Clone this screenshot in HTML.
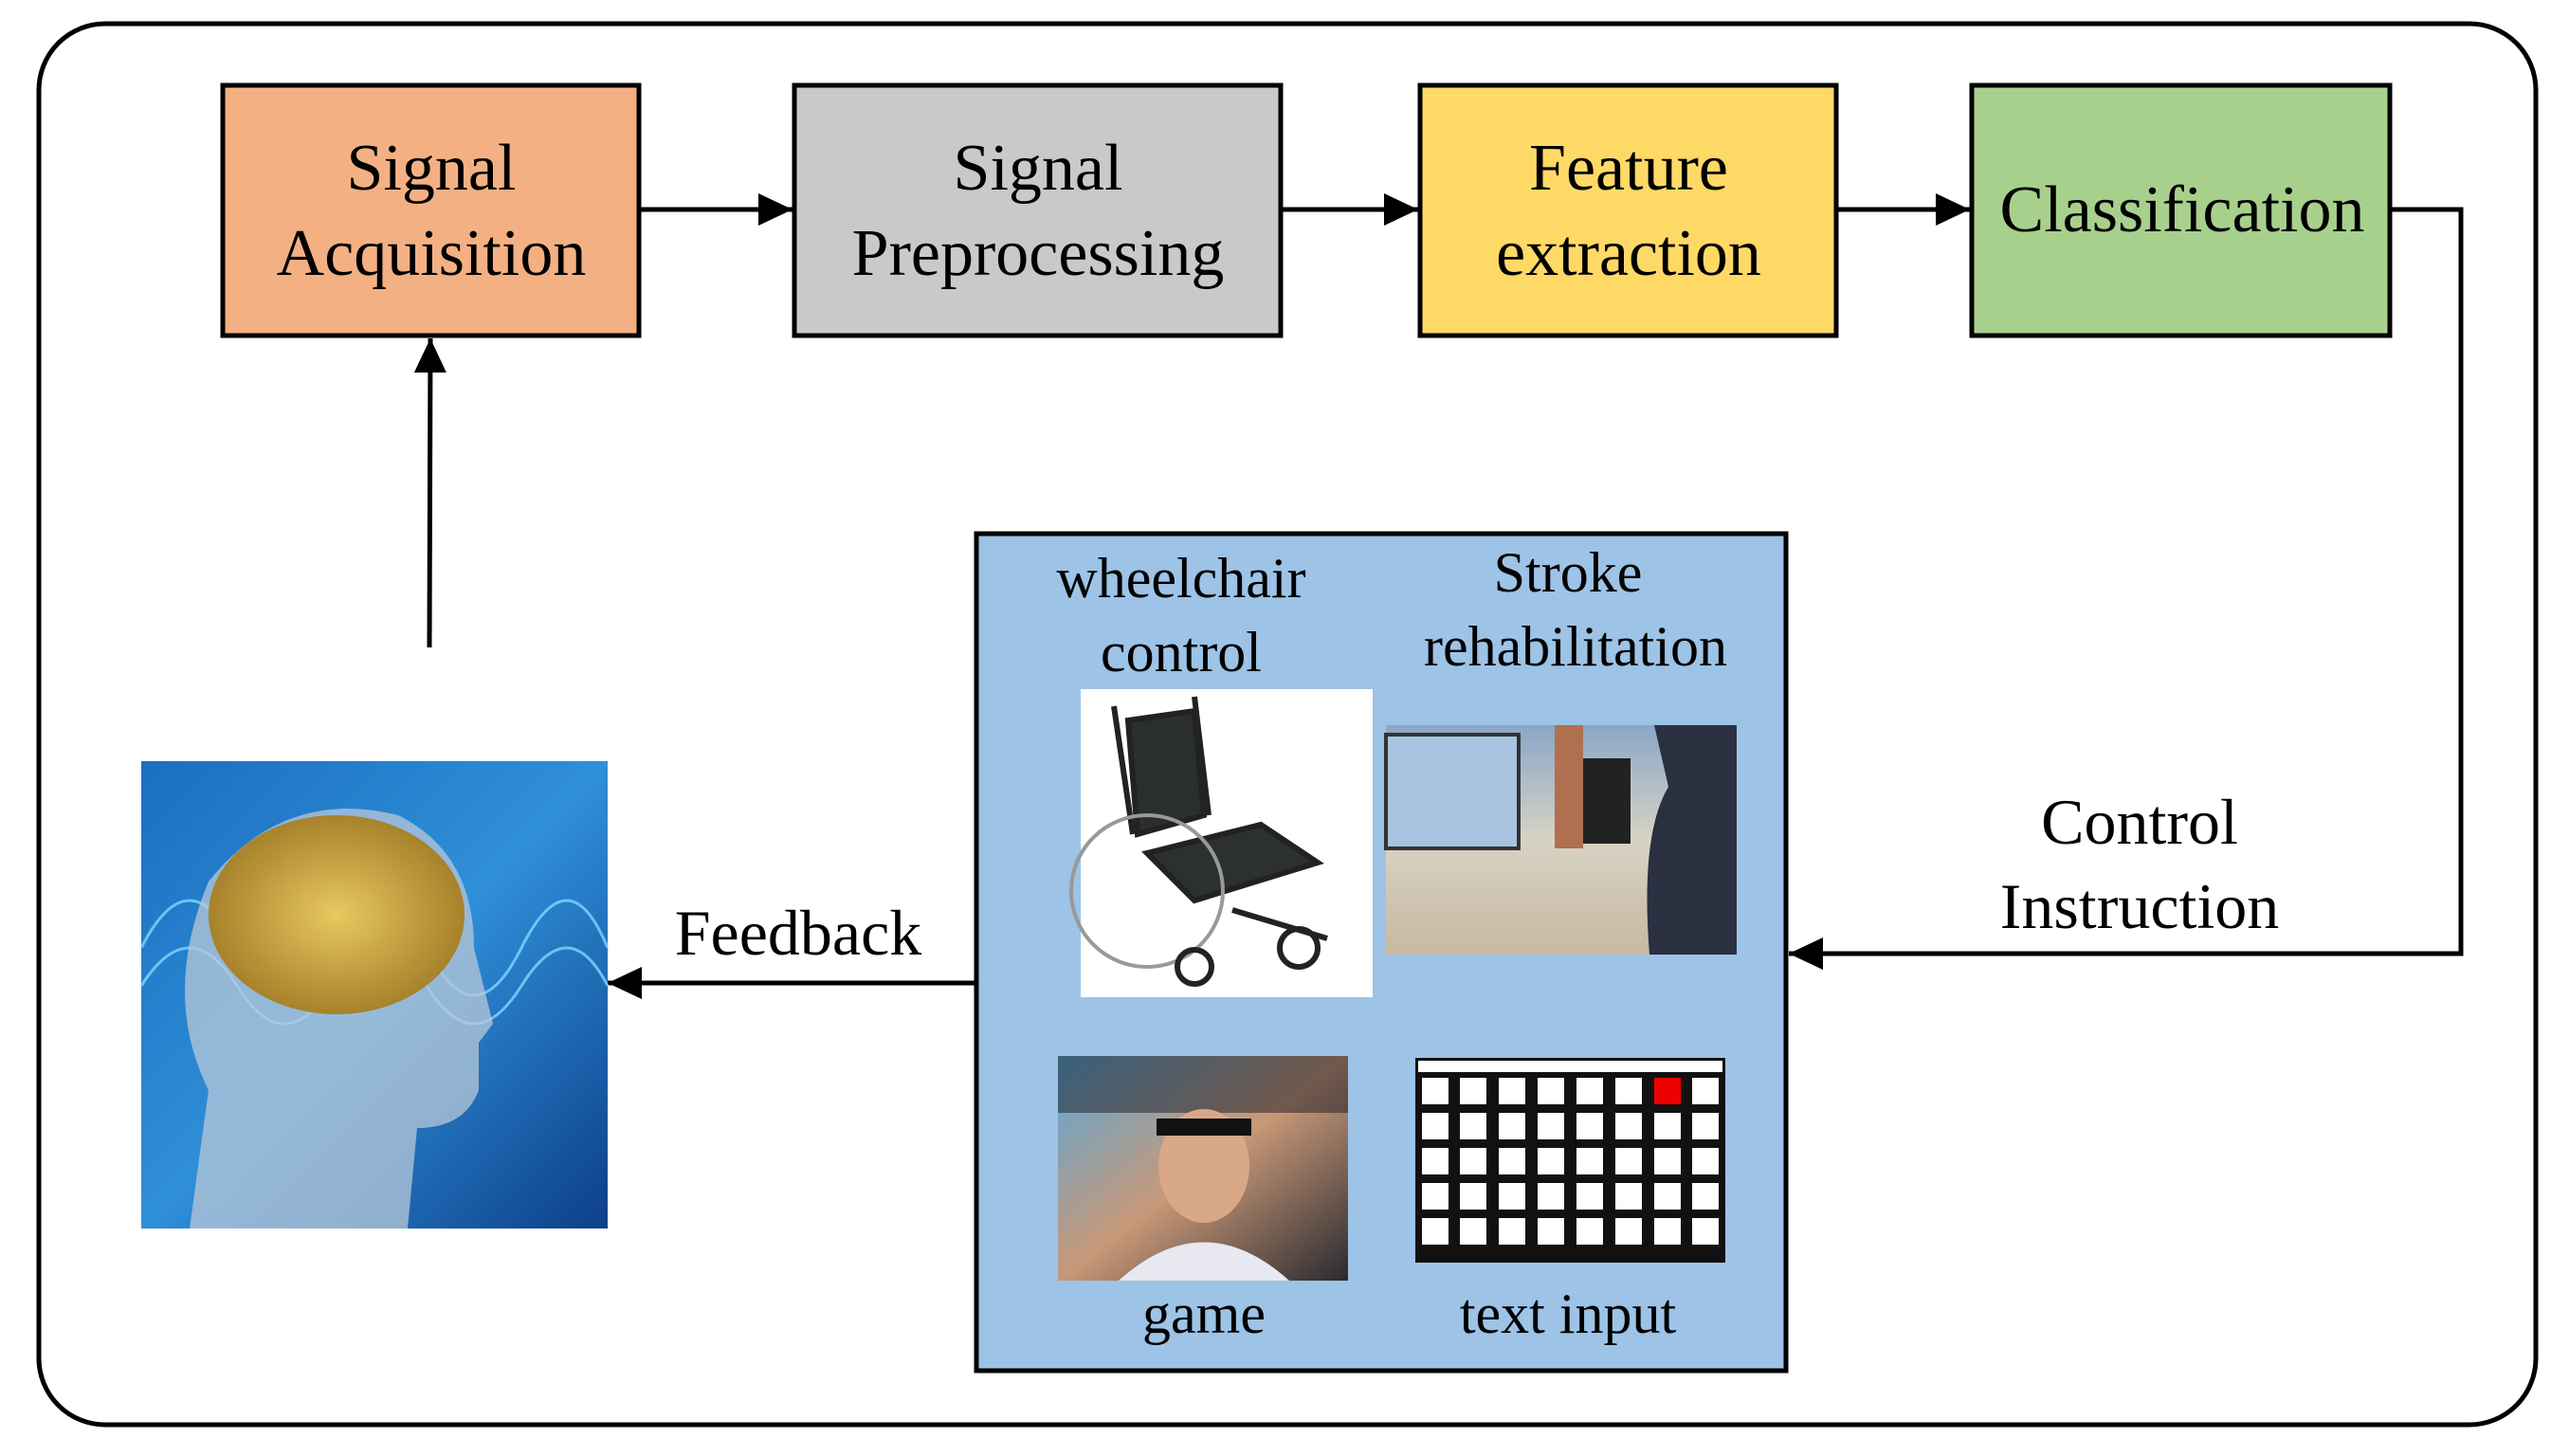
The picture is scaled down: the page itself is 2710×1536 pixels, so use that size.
<!DOCTYPE html>
<html><head><meta charset="utf-8"><style>
body{margin:0;background:#fff}
svg text{font-family:"Liberation Serif",serif;fill:#000}
</style></head><body>
<svg width="2710" height="1531" viewBox="0 0 2710 1531" xmlns="http://www.w3.org/2000/svg">
<defs>
<marker id="ah" markerWidth="36" markerHeight="34" refX="36" refY="17" orient="auto" markerUnits="userSpaceOnUse" viewBox="0 0 36 34"><path d="M0,0 L36,17 L0,34 z" fill="#000"/></marker>
<linearGradient id="bg" x1="0" y1="0" x2="1" y2="1"><stop offset="0" stop-color="#1a6fc0"/><stop offset="0.5" stop-color="#2f8fd8"/><stop offset="1" stop-color="#0d3f8a"/></linearGradient>
<radialGradient id="br" cx="0.5" cy="0.5" r="0.6"><stop offset="0" stop-color="#e8c860"/><stop offset="1" stop-color="#9a7420"/></radialGradient>
<linearGradient id="st" x1="0" y1="0" x2="0" y2="1"><stop offset="0" stop-color="#8aa6c8"/><stop offset="0.5" stop-color="#d8d2c4"/><stop offset="1" stop-color="#c8b8a0"/></linearGradient>
<linearGradient id="gm" x1="0" y1="0" x2="1" y2="1"><stop offset="0" stop-color="#5aa8d8"/><stop offset="0.5" stop-color="#c89878"/><stop offset="1" stop-color="#2a2a30"/></linearGradient>
</defs>
<rect x="41" y="25" width="2634" height="1478" rx="70" fill="none" stroke="#000" stroke-width="5"/>
<rect x="235" y="90" width="439" height="264" fill="#f3b183" stroke="#000" stroke-width="5"/>
<rect x="838" y="90" width="513" height="264" fill="#c9c9c9" stroke="#000" stroke-width="5"/>
<rect x="1498" y="90" width="439" height="264" fill="#fed966" stroke="#000" stroke-width="5"/>
<rect x="2080" y="90" width="441" height="264" fill="#a8d08d" stroke="#000" stroke-width="5"/>
<g font-size="70" text-anchor="middle">
<text x="455" y="200">Signal</text><text x="455" y="290">Acquisition</text>
<text x="1095" y="200">Signal</text><text x="1095" y="290">Preprocessing</text>
<text x="1718" y="200">Feature</text><text x="1718" y="290">extraction</text>
<text x="2302" y="244">Classification</text>
</g>
<g stroke="#000" stroke-width="5" fill="none">
<line x1="674" y1="221" x2="836" y2="221" marker-end="url(#ah)"/>
<line x1="1351" y1="221" x2="1496" y2="221" marker-end="url(#ah)"/>
<line x1="1937" y1="221" x2="2078" y2="221" marker-end="url(#ah)"/>
<polyline points="2521,221 2596,221 2596,1006 1887,1006" marker-end="url(#ah)"/>
<line x1="453" y1="683" x2="454" y2="357" marker-end="url(#ah)"/>
<line x1="1030" y1="1037" x2="641" y2="1037" marker-end="url(#ah)"/>
</g>
<text x="842" y="1007" font-size="68" text-anchor="middle">Feedback</text>
<text x="2257" y="890" font-size="68" text-anchor="middle">Control</text>
<text x="2257" y="979" font-size="68" text-anchor="middle">Instruction</text>
<rect x="149" y="803" width="492" height="493" fill="url(#bg)"/>
<g stroke="#7fd8ff" stroke-width="3" fill="none" opacity="0.8">
<path d="M149,1000 Q200,900 250,1000 T350,1000 T450,1000 T550,1000 T641,1000"/>
<path d="M149,1040 Q200,960 250,1040 T350,1040 T450,1040 T550,1040 T641,1040"/>
</g>
<path d="M200,1296 L220,1150 Q170,1050 220,930 Q300,830 420,860 Q500,900 500,1000 L520,1080 L505,1100 L505,1150 Q490,1190 440,1190 L430,1296 z" fill="#b8c8d8" opacity="0.75"/>
<ellipse cx="355" cy="965" rx="135" ry="105" fill="url(#br)"/>
<rect x="1030" y="563" width="854" height="883" fill="#9dc3e6" stroke="#000" stroke-width="5"/>
<g font-size="60" text-anchor="middle">
<text x="1246" y="630">wheelchair</text><text x="1246" y="708">control</text>
<text x="1654" y="624">Stroke</text><text x="1662" y="702">rehabilitation</text>
<text x="1270" y="1406">game</text><text x="1654" y="1406">text input</text>
</g>
<rect x="1140" y="727" width="308" height="325" fill="#fff"/>
<g stroke="#222" fill="none" stroke-width="6">
<path d="M1175,745 L1195,880 M1260,735 L1275,860" />
<path d="M1190,760 L1260,750 L1270,860 L1200,880 z" fill="#2a2e2c"/>
<path d="M1210,900 L1330,870 L1390,910 L1260,950 z" fill="#2c302e"/>
<circle cx="1210" cy="940" r="80" stroke="#999" stroke-width="4"/>
<circle cx="1370" cy="1000" r="20"/>
<circle cx="1260" cy="1020" r="18"/>
<path d="M1300,960 L1400,990"/>
</g>
<rect x="1462" y="765" width="370" height="242" fill="url(#st)"/>
<rect x="1462" y="775" width="140" height="120" fill="#a8c4e0" stroke="#333" stroke-width="4"/>
<rect x="1660" y="800" width="60" height="90" fill="#222"/>
<path d="M1745,765 L1832,765 L1832,1007 L1740,1007 Q1730,880 1760,830 z" fill="#2a3040"/>
<rect x="1640" y="765" width="30" height="130" fill="#b07050"/>
<rect x="1116" y="1114" width="306" height="237" fill="url(#gm)"/>
<rect x="1116" y="1114" width="306" height="60" fill="#1a1a22" opacity="0.5"/>
<ellipse cx="1270" cy="1230" rx="48" ry="60" fill="#d8a888"/>
<rect x="1220" y="1180" width="100" height="18" fill="#111"/>
<path d="M1180,1351 Q1270,1270 1360,1351 z" fill="#e8e8f0"/>
<rect x="1493" y="1116" width="327" height="216" fill="#111"/>
<rect x="1496" y="1119" width="321" height="12" fill="#fff"/>
<g fill="#fff">
<rect x="1500" y="1137" width="28" height="28"/><rect x="1540" y="1137" width="28" height="28"/><rect x="1581" y="1137" width="28" height="28"/><rect x="1622" y="1137" width="28" height="28"/><rect x="1663" y="1137" width="28" height="28"/><rect x="1704" y="1137" width="28" height="28"/><rect x="1745" y="1137" width="28" height="28" fill="#e00"/><rect x="1785" y="1137" width="28" height="28"/>
<rect x="1500" y="1174" width="28" height="28"/><rect x="1540" y="1174" width="28" height="28"/><rect x="1581" y="1174" width="28" height="28"/><rect x="1622" y="1174" width="28" height="28"/><rect x="1663" y="1174" width="28" height="28"/><rect x="1704" y="1174" width="28" height="28"/><rect x="1745" y="1174" width="28" height="28"/><rect x="1785" y="1174" width="28" height="28"/>
<rect x="1500" y="1211" width="28" height="28"/><rect x="1540" y="1211" width="28" height="28"/><rect x="1581" y="1211" width="28" height="28"/><rect x="1622" y="1211" width="28" height="28"/><rect x="1663" y="1211" width="28" height="28"/><rect x="1704" y="1211" width="28" height="28"/><rect x="1745" y="1211" width="28" height="28"/><rect x="1785" y="1211" width="28" height="28"/>
<rect x="1500" y="1248" width="28" height="28"/><rect x="1540" y="1248" width="28" height="28"/><rect x="1581" y="1248" width="28" height="28"/><rect x="1622" y="1248" width="28" height="28"/><rect x="1663" y="1248" width="28" height="28"/><rect x="1704" y="1248" width="28" height="28"/><rect x="1745" y="1248" width="28" height="28"/><rect x="1785" y="1248" width="28" height="28"/>
<rect x="1500" y="1285" width="28" height="28"/><rect x="1540" y="1285" width="28" height="28"/><rect x="1581" y="1285" width="28" height="28"/><rect x="1622" y="1285" width="28" height="28"/><rect x="1663" y="1285" width="28" height="28"/><rect x="1704" y="1285" width="28" height="28"/><rect x="1745" y="1285" width="28" height="28"/><rect x="1785" y="1285" width="28" height="28"/>
</g>
</svg>
</body></html>
